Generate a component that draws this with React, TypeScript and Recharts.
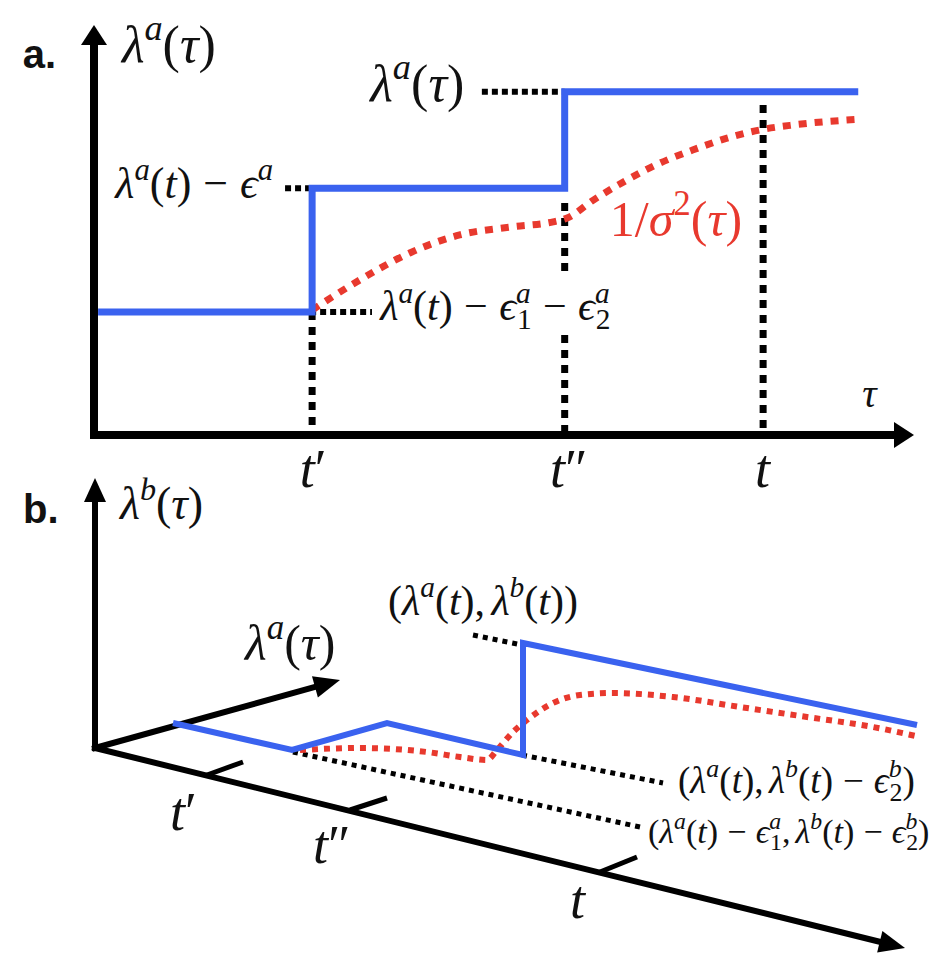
import { ComposedChart, Line, XAxis, YAxis, ReferenceLine, ReferenceDot } from "recharts";

// ---- panel a: tau on x, lambda^a on y (both 0..10) ----
const stepTau = [0.05, 2.66, 2.66, 5.74, 5.74, 9.32];
const stepLambda = [3.0, 3.0, 6.02, 6.02, 8.37, 8.37];
const precTau = [2.66, 3.24, 3.85, 4.46, 5.07, 5.6, 5.77, 6.09, 6.5, 6.9, 7.3, 7.72, 8.12, 8.52, 9.32];
const precA = [3.05, 3.78, 4.44, 4.88, 5.07, 5.2, 5.29, 5.73, 6.22, 6.63, 6.95, 7.24, 7.44, 7.56, 7.7];
const tickTau = [2.66, 5.74, 8.16]; // t', t'', t
const levels = [3.0, 6.02, 8.37];

// ---- panel b: projected 3d picture (u across, v up) ----
const pathU = [7.8, 19.7, 29.2, 42.8, 42.8, 82.2];
const pathV = [2.5, -0.2, 2.5, -0.7, 10.5, 2.3];
const precU = [20.5, 26.5, 33.2, 36.5, 39.2, 40.2, 41.8, 43.2, 45.8, 48.5, 51.8, 57.8, 64.5, 71.2, 77.8, 82.5];
const precB = [-0.2, 0, -0.4, -0.9, -1.2, -0.2, 1.6, 2.8, 4.5, 5.3, 5.5, 5.1, 4.1, 3.1, 2.1, 1.1];
const tickStartU = [11.2, 25.5, 50.5];
const tickStartV = [-2.7, -6.2, -12.4];
const tickEndU = [14.8, 29.2, 54.2];
const tickEndV = [-1.4, -5.0, -10.9];

const zip = (xs: number[], ys: number[]) => xs.map((x, i) => ({ x, y: ys[i] }));

const BLUE = "#3a62ef";
const RED = "#e8392e";
const INK = "#111";
const SERIF = "'Liberation Serif', 'DejaVu Serif', serif";

type Part = [string, string];

const MathText = ({ x, y, parts, size, fill = INK }: { x: number; y: number; parts: Part[]; size: number; fill?: string }) => {
  const small = size * 0.7;
  const up = -0.42 * size;
  const down = 0.22 * size;
  const gap = size * 0.27;
  let cur = 0;
  let pend = 0;
  const out: any[] = [];
  parts.forEach(([s, k], i) => {
    if (k === "op") {
      out.push(
        <tspan key={i} dx={gap + pend} dy={-cur} fontSize={size} fontStyle="normal">{s}</tspan>
      );
      cur = 0;
      pend = gap;
      return;
    }
    if (k === "ss") {
      const [sp, sb] = s.split("|");
      out.push(
        <tspan key={i + "p"} dx={pend || undefined} dy={up - cur} fontSize={small} fontStyle="italic">{sp}</tspan>
      );
      out.push(
        <tspan key={i + "b"} dx={-0.33 * size} dy={down - up} fontSize={small} fontStyle="normal">{sb}</tspan>
      );
      cur = down;
      pend = 0;
      return;
    }
    const off = k === "sup" || k === "supr" ? up : k === "sub" ? down : 0;
    const sz = off === 0 ? size : small;
    const italic = k === "i" || k === "sup";
    out.push(
      <tspan key={i} dx={pend || undefined} dy={off - cur} fontSize={sz} fontStyle={italic ? "italic" : "normal"}>{s}</tspan>
    );
    cur = off;
    pend = k === "comma" ? size * 0.15 : 0;
  });
  return (
    <text x={x} y={y} fontFamily={SERIF} style={{ fontFamily: SERIF }} fontSize={size} fill={fill}>
      {out}
    </text>
  );
};

const arrow = (sw: number, len: number, half: number) => (p: any) => {
  const { x1, y1, x2, y2 } = p;
  const a = Math.atan2(y2 - y1, x2 - x1);
  const c = Math.cos(a);
  const s = Math.sin(a);
  const bx = x2 - len * c;
  const by = y2 - len * s;
  return (
    <g>
      <line x1={x1} y1={y1} x2={bx} y2={by} stroke="#000" strokeWidth={sw} strokeLinecap="square" />
      <polygon
        points={`${x2},${y2} ${bx - half * s},${by + half * c} ${bx + half * s},${by - half * c}`}
        fill="#000"
      />
    </g>
  );
};

const lamTau = (sup: string): Part[] => [["λ", "i"], [sup, "sup"], ["(", "r"], ["τ", "i"], [")", "r"]];
const lamT = (sup: string): Part[] => [["λ", "i"], [sup, "sup"], ["(", "r"], ["t", "i"], [")", "r"]];
const tPrime: Part[] = [["t", "i"], ["′", "r"]];
const tDouble: Part[] = [["t", "i"], ["″", "r"]];

const labelsA = [
  { x: 0.34, y: 9.1, size: 52, parts: lamTau("a") },
  { x: 3.37, y: 8.15, size: 52, parts: lamTau("a") },
  { x: 0.26, y: 5.78, size: 44, parts: [...lamT("a"), ["−", "op"], ["ϵ", "i"], ["a", "sup"]] as Part[] },
  {
    x: 3.49, y: 2.8, size: 42,
    parts: [...lamT("a"), ["−", "op"], ["ϵ", "i"], ["a|1", "ss"], ["−", "op"], ["ϵ", "i"], ["a|2", "ss"]] as Part[],
  },
  {
    x: 6.29, y: 4.85, size: 50, fill: RED,
    parts: [["1", "r"], ["/", "r"], ["σ", "i"], ["2", "supr"], ["(", "r"], ["τ", "i"], [")", "r"]] as Part[],
  },
  { x: 9.37, y: 0.68, size: 40, parts: [["τ", "i"]] as Part[] },
  { x: 2.51, y: -1.27, size: 54, parts: tPrime },
  { x: 5.56, y: -1.27, size: 54, parts: tDouble },
  { x: 8.06, y: -1.27, size: 54, parts: [["t", "i"]] as Part[] },
];

const labelsB = [
  { x: 2.5, y: 22.9, size: 46, parts: lamTau("b") },
  { x: 15, y: 8.8, size: 50, parts: lamTau("a") },
  {
    x: 29.3, y: 13.3, size: 42,
    parts: [["(", "r"], ...lamT("a"), [",", "comma"], ...lamT("b"), [")", "r"]] as Part[],
  },
  {
    x: 58.3, y: -4.5, size: 37,
    parts: [["(", "r"], ...lamT("a"), [",", "comma"], ...lamT("b"), ["−", "op"], ["ϵ", "i"], ["b|2", "ss"], [")", "r"]] as Part[],
  },
  {
    x: 55.3, y: -9.5, size: 34,
    parts: [
      ["(", "r"], ...lamT("a"), ["−", "op"], ["ϵ", "i"], ["a|1", "ss"], [",", "comma"],
      ...lamT("b"), ["−", "op"], ["ϵ", "i"], ["b|2", "ss"], [")", "r"],
    ] as Part[],
  },
  { x: 7.5, y: -8.2, size: 54, parts: tPrime },
  { x: 21.8, y: -11.5, size: 54, parts: tDouble },
  { x: 47.5, y: -17, size: 54, parts: [["t", "i"]] as Part[] },
];

const Bold = ({ x, y, text }: { x: number; y: number; text: string }) => (
  <text x={x} y={y} fontFamily="'Liberation Sans', Arial, sans-serif" fontWeight="bold" fontSize={40} fill={INK}>
    {text}
  </text>
);

const vDots = { stroke: "#000", strokeWidth: 7, strokeDasharray: "8 7" };
const hDots = { stroke: "#000", strokeWidth: 6, strokeDasharray: "6 4" };
const bDots = { stroke: "#000", strokeWidth: 5, strokeDasharray: "5 5" };

export default function App() {
  return (
    <div style={{ position: "absolute", left: 0, top: 0, width: 947, height: 967, background: "#fff" }}>
      <div style={{ position: "absolute", left: 0, top: 0 }}>
        <ComposedChart width={947} height={500} margin={{ top: 25, right: 33, bottom: 65, left: 94 }}>
          <XAxis type="number" dataKey="x" domain={[0, 10]} hide allowDataOverflow />
          <YAxis type="number" domain={[0, 10]} hide allowDataOverflow />
          {/* guides */}
          <ReferenceLine segment={[{ x: tickTau[0], y: levels[0] }, { x: tickTau[0], y: 0 }]} {...vDots} />
          <ReferenceLine segment={[{ x: tickTau[1], y: 5.66 }, { x: tickTau[1], y: 3.85 }]} {...vDots} />
          <ReferenceLine segment={[{ x: tickTau[1], y: 2.44 }, { x: tickTau[1], y: 0 }]} {...vDots} />
          <ReferenceLine segment={[{ x: tickTau[2], y: 8.05 }, { x: tickTau[2], y: 0 }]} {...vDots} />
          <ReferenceLine segment={[{ x: 4.73, y: levels[2] }, { x: tickTau[1], y: levels[2] }]} {...hDots} />
          <ReferenceLine segment={[{ x: 2.33, y: levels[1] }, { x: tickTau[0], y: levels[1] }]} {...hDots} />
          <ReferenceLine segment={[{ x: 2.27, y: levels[0] }, { x: 3.39, y: levels[0] }]} {...hDots} />
          {/* axes */}
          <ReferenceLine segment={[{ x: 0, y: 0 }, { x: 0, y: 10 }]} shape={arrow(8, 20, 13)} />
          <ReferenceLine segment={[{ x: 0, y: 0 }, { x: 10, y: 0 }]} shape={arrow(8, 20, 13)} />
          <Line
            data={zip(precTau, precA)}
            dataKey="y"
            type="monotone"
            stroke={RED}
            strokeWidth={7}
            strokeDasharray="8 8"
            dot={false}
            isAnimationActive={false}
          />
          <Line
            data={zip(stepTau, stepLambda)}
            dataKey="y"
            type="linear"
            stroke={BLUE}
            strokeWidth={7}
            strokeLinejoin="miter"
            dot={false}
            isAnimationActive={false}
          />
          <ReferenceDot x={-0.87} y={8.95} ifOverflow="visible" shape={(p: any) => <Bold x={p.cx} y={p.cy} text="a." />} />
          {labelsA.map((l, i) => (
            <ReferenceDot
              key={i}
              x={l.x}
              y={l.y}
              ifOverflow="visible"
              shape={(p: any) => <MathText x={p.cx} y={p.cy} parts={l.parts} size={l.size} fill={l.fill} />}
            />
          ))}
        </ComposedChart>
      </div>
      <div style={{ position: "absolute", left: 0, top: 470 }}>
        <ComposedChart width={947} height={497} margin={{ top: 8, right: 12, bottom: 9, left: 95 }}>
          <XAxis type="number" dataKey="x" domain={[0, 84]} hide allowDataOverflow />
          <YAxis type="number" domain={[-21, 27]} hide allowDataOverflow />
          <ReferenceLine segment={[{ x: 37.8, y: 11.3 }, { x: 42.7, y: 10.3 }]} {...bDots} />
          <ReferenceLine segment={[{ x: 42.7, y: -0.7 }, { x: 56.8, y: -3.5 }]} {...bDots} />
          <ReferenceLine segment={[{ x: 19.8, y: -0.4 }, { x: 54.5, y: -7.9 }]} {...bDots} />
          <ReferenceLine segment={[{ x: 0, y: 0 }, { x: 0, y: 27 }]} shape={arrow(6, 24, 11)} />
          <ReferenceLine segment={[{ x: 0, y: 0 }, { x: 24.5, y: 6.8 }]} shape={arrow(6, 26, 11)} />
          <ReferenceLine segment={[{ x: 0, y: 0 }, { x: 81, y: -20 }]} shape={arrow(6, 26, 11)} />
          {tickStartU.map((u, i) => (
            <ReferenceLine
              key={i}
              segment={[{ x: u, y: tickStartV[i] }, { x: tickEndU[i], y: tickEndV[i] }]}
              stroke="#000"
              strokeWidth={5}
            />
          ))}
          <Line
            data={zip(precU, precB)}
            dataKey="y"
            type="monotone"
            stroke={RED}
            strokeWidth={6}
            strokeDasharray="6 6"
            dot={false}
            isAnimationActive={false}
          />
          <Line
            data={zip(pathU, pathV)}
            dataKey="y"
            type="linear"
            stroke={BLUE}
            strokeWidth={6}
            strokeLinejoin="miter"
            dot={false}
            isAnimationActive={false}
          />
          <ReferenceDot x={-7.2} y={22.5} ifOverflow="visible" shape={(p: any) => <Bold x={p.cx} y={p.cy} text="b." />} />
          {labelsB.map((l, i) => (
            <ReferenceDot
              key={i}
              x={l.x}
              y={l.y}
              ifOverflow="visible"
              shape={(p: any) => <MathText x={p.cx} y={p.cy} parts={l.parts} size={l.size} />}
            />
          ))}
        </ComposedChart>
      </div>
    </div>
  );
}
